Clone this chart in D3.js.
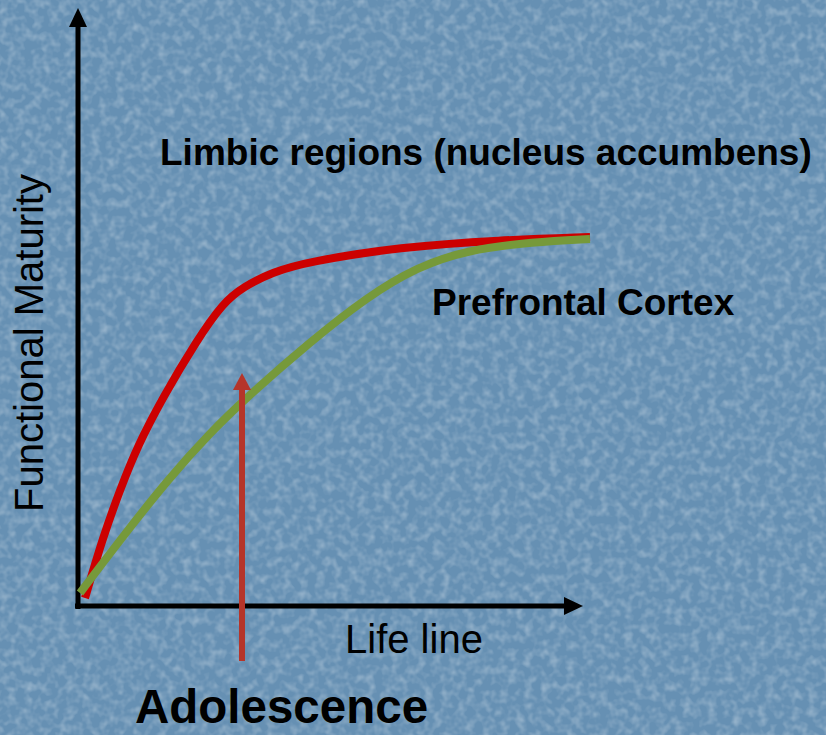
<!DOCTYPE html>
<html>
<head>
<meta charset="utf-8">
<script src="https://cdn.jsdelivr.net/npm/d3@7"></script>
<style>
  html, body { margin: 0; padding: 0; background: #6b93b5; }
  svg { display: block; }
  text { font-family: "Liberation Sans", Arial, sans-serif; fill: #000; }
</style>
</head>
<body>
<div id="chart"></div>
<script>
// curve samples (life line position, maturity)
const limbicX = [1, 4.6, 8, 11.4, 16.6, 23.4, 28.6, 32.6, 38.6, 45.4, 64, 84, 102];
const limbicY = [0.4, 12.6, 22, 30.6, 40.6, 52, 59.4, 62.6, 65.6, 67.6, 70.6, 72, 72.6];
const pfcX = [0, 8, 18, 26, 33.4, 46, 57.4, 67.4, 77.4, 90.6, 102];
const pfcY = [1.4, 12, 24.6, 33.4, 40.6, 51.6, 60.6, 66.6, 70, 71.6, 72.2];
const adolescenceX = 32.4;
const adolescenceSpan = [-12.2, 45.4];

const width = 826, height = 735;

const svg = d3.select("#chart").append("svg")
    .attr("width", width)
    .attr("height", height);

// textured blue background
const defs = svg.append("defs");
const noise = defs.append("filter").attr("id", "grain")
    .attr("x", 0).attr("y", 0).attr("width", "100%").attr("height", "100%");
noise.append("feTurbulence")
    .attr("type", "fractalNoise")
    .attr("baseFrequency", 0.12)
    .attr("numOctaves", 2)
    .attr("seed", 3);
noise.append("feColorMatrix")
    .attr("type", "matrix")
    .attr("values", "0 0 0 0 1  0 0 0 0 1  0 0 0 0 1  0 0 0 1.1 -0.45");

svg.append("rect").attr("width", width).attr("height", height).attr("fill", "#6690b3");
svg.append("rect").attr("width", width).attr("height", height)
    .attr("filter", "url(#grain)").attr("opacity", 0.55);

const x = d3.scaleLinear().domain([0, 100]).range([80, 580]);
const y = d3.scaleLinear().domain([0, 100]).range([600, 100]);

const g = svg.append("g");

// axes
const axisX = x(0) - 2, axisY = y(0) + 6;
g.append("line")
    .attr("x1", axisX).attr("x2", axisX)
    .attr("y1", axisY + 3).attr("y2", 24)
    .attr("stroke", "#000").attr("stroke-width", 5);
g.append("path")
    .attr("d", `M${axisX},8 L${axisX - 9},27 L${axisX + 9},27 Z`)
    .attr("fill", "#000");
g.append("line")
    .attr("x1", axisX - 3).attr("x2", 566)
    .attr("y1", axisY).attr("y2", axisY)
    .attr("stroke", "#000").attr("stroke-width", 5);
g.append("path")
    .attr("d", `M583,${axisY} L564,${axisY - 9} L564,${axisY + 9} Z`)
    .attr("fill", "#000");

// curves
const line = d3.line()
    .x(d => x(d[0]))
    .y(d => y(d[1]))
    .curve(d3.curveBasis);

g.append("path")
    .datum(limbicX.map((v, i) => [v, limbicY[i]]))
    .attr("d", line)
    .attr("fill", "none")
    .attr("stroke", "#cc0000")
    .attr("stroke-width", 8);

g.append("path")
    .datum(pfcX.map((v, i) => [v, pfcY[i]]))
    .attr("d", line)
    .attr("fill", "none")
    .attr("stroke", "#76993a")
    .attr("stroke-width", 8);

// adolescence arrow
const ax = x(adolescenceX);
const aTop = y(adolescenceSpan[1]), aBottom = y(adolescenceSpan[0]);
g.append("line")
    .attr("x1", ax).attr("x2", ax)
    .attr("y1", aBottom).attr("y2", aTop + 14)
    .attr("stroke", "#b5352a").attr("stroke-width", 6);
g.append("path")
    .attr("d", `M${ax},${aTop} L${ax - 9},${aTop + 17} L${ax + 9},${aTop + 17} Z`)
    .attr("fill", "#b5352a");

// labels
g.append("text")
    .attr("x", 160).attr("y", 165)
    .attr("font-size", 37).attr("font-weight", "bold")
    .text("Limbic regions (nucleus accumbens)");

g.append("text")
    .attr("x", 432).attr("y", 315)
    .attr("font-size", 37).attr("font-weight", "bold")
    .text("Prefrontal Cortex");

g.append("text")
    .attr("x", 345).attr("y", 653)
    .attr("font-size", 40)
    .text("Life line");

g.append("text")
    .attr("x", 135).attr("y", 723)
    .attr("font-size", 47.5).attr("font-weight", "bold")
    .text("Adolescence");

g.append("text")
    .attr("transform", "translate(43,343) rotate(-90)")
    .attr("text-anchor", "middle")
    .attr("font-size", 40)
    .text("Functional Maturity");
</script>
</body>
</html>
